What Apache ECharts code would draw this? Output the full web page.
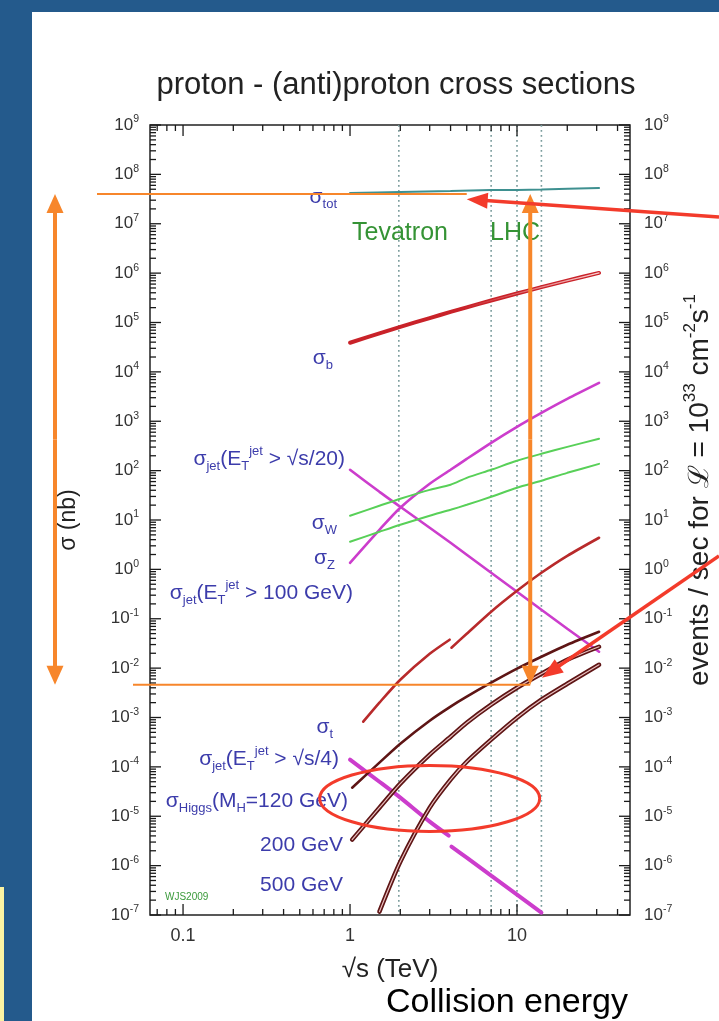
<!DOCTYPE html>
<html><head><meta charset="utf-8">
<script src="https://cdn.jsdelivr.net/npm/echarts@6/dist/echarts.min.js"></script>
<style>
html,body{margin:0;padding:0;width:719px;height:1021px;overflow:hidden;background:#245a8c;}
#panel{position:absolute;left:32px;top:12px;width:687px;height:1009px;background:#fff;}
#strip{position:absolute;left:0;top:887px;width:4px;height:134px;background:#fbf3a3;}
#chart{position:absolute;left:0;top:0;width:719px;height:1021px;}
</style></head><body>
<div id="panel"></div><div id="strip"></div><div id="chart"></div>
<script>
const FONT = "'Liberation Sans', Arial, Helvetica, sans-serif";

// ---------------- data (sqrt(s) in TeV, sigma in nb) ----------------
const energyGrid = [1, 1.5, 2, 3, 4, 5, 7, 10, 14, 20, 31];
const energyTot = [1, 2, 4, 7, 10, 14, 31];
const sigmaTot = [4.20e7, 4.41e7, 4.61e7, 4.83e7, 4.85e7, 4.94e7, 5.31e7];
const sigmaB = [3.89e4, 6.03e4, 8.15e4, 1.23e5, 1.64e5, 2.03e5, 2.79e5, 3.86e5, 5.20e5, 7.05e5, 1.01e6];
const sigmaJetS20 = [104, 37.2, 18.5, 6.95, 3.45, 1.98, 0.853, 0.352, 0.152, 0.0628, 0.0215];
const sigmaJet100 = [1.36, 6.34, 17.7, 54.1, 104, 173, 366, 771, 1479, 2838, 5984];
const sigmaW = [12.2, 19.4, 26.9, 40.8, 51.6, 71.4, 104, 158, 219, 303, 441];
const sigmaZ = [3.62, 5.77, 8.0, 12.2, 16.1, 20.3, 29.5, 44.9, 62.2, 90.2, 137];
const energyTopPpbar = [1.2, 1.5, 2, 3, 3.95];
const sigmaTopPpbar = [8.22e-4, 2.0e-3, 5.82e-3, 1.95e-2, 3.76e-2];
const energyTopPp = [4.05, 5, 7, 10, 14, 20, 31];
const sigmaTopPp = [2.59e-2, 4.97e-2, 0.139, 0.369, 0.853, 1.88, 4.37];
const energyJetS4Ppbar = [1, 1.5, 2, 3, 3.9];
const sigmaJetS4Ppbar = [1.40e-4, 5.0e-5, 2.38e-5, 7.78e-6, 4.05e-6];
const energyJetS4Pp = [4.05, 5, 7, 10, 14];
const sigmaJetS4Pp = [2.43e-6, 1.45e-6, 6.28e-7, 2.59e-7, 1.12e-7];
const energyHiggs = [1.03, 1.5, 2, 3, 4, 5, 7, 10, 14, 20, 31];
const sigmaH120 = [3.79e-5, 1.22e-4, 2.95e-4, 8.61e-4, 1.66e-3, 2.64e-3, 5.06e-3, 9.73e-3, 1.70e-2, 2.98e-2, 5.46e-2];
const sigmaH200 = [3.36e-6, 1.49e-5, 4.57e-5, 1.77e-4, 4.08e-4, 7.85e-4, 1.82e-3, 4.01e-3, 7.71e-3, 1.48e-2, 2.71e-2];
const energyH500 = [1.5, 2, 3, 4, 5, 7, 10, 14, 20, 31];
const sigmaH500 = [1.17e-7, 1.2e-6, 1.49e-5, 5.51e-5, 1.27e-4, 3.56e-4, 9.91e-4, 2.29e-3, 4.83e-3, 1.17e-2];
const colliderEnergies = [1.96, 7, 10, 14];

// ---------------- axes / ticks ----------------
const xMin = 0.0634, xMax = 47.5, yMin = 1e-7, yMax = 1e9;
const xMajorTicks = [0.1, 1, 10];
const xTickLabels = ['0.1', '1', '10'];
const xMinorTicks = [0.07, 0.08, 0.09, 0.2, 0.3, 0.4, 0.5, 0.6, 0.7, 0.8, 0.9, 2, 3, 4, 5, 6, 7, 8, 9, 20, 30, 40];
const yTickExponents = [-7, -6, -5, -4, -3, -2, -1, 0, 1, 2, 3, 4, 5, 6, 7, 8, 9];
const yMinorMultipliers = [2, 3, 4, 5, 6, 7, 8, 9];

// ---------------- annotation anchors (data space) ----------------
const annotUpperLevel = 4.0e7;
const annotLowerLevel = 4.6e-3;
const annotArrowEnergy = 12;
const annotTip1 = [5.0, 3.13e7];
const annotTip2 = [14.1, 6.4e-3];
const annotEllipseCenter = [3.0, 2.3e-5];

// ---------------- helpers ----------------
const zip = (xs, ys) => xs.map((x, i) => [x, ys[i]]);
function curve(name, xs, ys, color, width, z, extra) {
  return Object.assign({
    type: 'line', name, data: zip(xs, ys), symbol: 'none', showSymbol: false,
    smooth: 0.25, lineStyle: { color, width, cap: 'round' }, itemStyle: { color },
    z: z || 3, silent: true, animation: false, clip: true
  }, extra || {});
}
const C_MAG = '#cc3dcc', C_GRN = '#58d058', C_TOT = '#3e9090', C_B = '#c92229',
      C_TOP = '#b82a2b', C_H = '#5e1515', C_LIGHT = 'rgba(240,200,200,0.95)';

const yTickData = [];
yTickExponents.forEach(n => yTickData.push([1, Math.pow(10, n), 1]));
yTickExponents.slice(0, -1).forEach(n => yMinorMultipliers.forEach(k => yTickData.push([1, k * Math.pow(10, n), 0])));
const xTickData = xMajorTicks.map(v => [v, 1, 1]).concat(xMinorTicks.map(v => [v, 1, 0]));
const yLabelData = yTickExponents.map(n => [1, Math.pow(10, n), n]);

const tickRich = {
  b: { fontSize: 17, lineHeight: 22, fill: '#333', color: '#333', fontFamily: FONT },
  s: { fontSize: 10.5, lineHeight: 10, verticalAlign: 'top', fill: '#333', color: '#333', fontFamily: FONT }
};

const option = {
  animation: false,
  backgroundColor: 'transparent',
  title: {
    text: 'proton - (anti)proton cross sections', left: 391, top: 65, textAlign: 'center',
    textStyle: { fontSize: 31, fontWeight: 'normal', color: '#222', fontFamily: FONT }
  },
  grid: { left: 150, top: 125, right: 89, bottom: 106, show: true, borderColor: '#222', borderWidth: 1.5,
          backgroundColor: 'transparent', containLabel: false, outerBoundsMode: 'none' },
  xAxis: [{
    type: 'log', logBase: 10, min: xMin, max: xMax, position: 'bottom',
    axisLine: { show: false }, axisTick: { show: false }, splitLine: { show: false }, minorTick: { show: false },
    axisLabel: {
      margin: 12, fontSize: 18, color: '#333', fontFamily: FONT, showMinLabel: false, showMaxLabel: false,
      formatter: v => { const i = xMajorTicks.findIndex(t => Math.abs(Math.log10(v / t)) < 1e-6); return i >= 0 ? xTickLabels[i] : ''; }
    },
    name: '√s (TeV)', nameLocation: 'middle', nameGap: 42,
    nameTextStyle: { fontSize: 26, color: '#222', fontFamily: FONT }
  }],
  yAxis: [{
    type: 'log', logBase: 10, min: yMin, max: yMax, position: 'left',
    axisLine: { show: false }, axisTick: { show: false }, splitLine: { show: false }, axisLabel: { show: false },
    name: 'σ (nb)', nameLocation: 'middle', nameRotate: 90, nameGap: 70,
    nameTextStyle: { fontSize: 23, color: '#222', fontFamily: FONT }
  }, {
    type: 'log', logBase: 10, min: yMin, max: yMax, position: 'right',
    axisLine: { show: false }, axisTick: { show: false }, splitLine: { show: false }, axisLabel: { show: false }
  }],
  series: [
    { type: 'custom', name: 'colliders', coordinateSystem: 'cartesian2d', data: colliderEnergies.map(e => [e, 1]),
      encode: { x: 0, y: 1 }, z: 1, silent: true, clip: false,
      renderItem: (params, api) => {
        const cs = params.coordSys; const x = api.coord([api.value(0), 1])[0];
        return { type: 'line', shape: { x1: x, y1: cs.y, x2: x, y2: cs.y + cs.height },
                 style: { stroke: '#7a9c9c', lineWidth: 1.6, lineDash: [1.8, 3.2] } };
      } },
    curve('σtot', energyTot, sigmaTot, C_TOT, 2),
    curve('σb', energyGrid, sigmaB, C_B, 4),
    curve('σb band', energyGrid, sigmaB, new echarts.graphic.LinearGradient(0, 0, 1, 0, [
      { offset: 0, color: 'rgba(255,215,215,0)' }, { offset: 0.45, color: 'rgba(255,215,215,0)' },
      { offset: 1, color: 'rgba(255,225,225,0.95)' }]), 1.2, 4),
    curve('σjet ET>√s/20', energyGrid, sigmaJetS20, C_MAG, 2.6),
    curve('σjet ET>100 GeV', energyGrid, sigmaJet100, C_MAG, 2.6),
    curve('σW', energyGrid, sigmaW, C_GRN, 2),
    curve('σZ', energyGrid, sigmaZ, C_GRN, 2),
    curve('σt ppbar', energyTopPpbar, sigmaTopPpbar, C_TOP, 2.6),
    curve('σt pp', energyTopPp, sigmaTopPp, C_TOP, 2.6),
    curve('σjet ET>√s/4 ppbar', energyJetS4Ppbar, sigmaJetS4Ppbar, C_MAG, 4),
    curve('σjet ET>√s/4 pp', energyJetS4Pp, sigmaJetS4Pp, C_MAG, 4),
    curve('σHiggs 120', energyHiggs, sigmaH120, C_H, 2.6),
    curve('σHiggs 200', energyHiggs, sigmaH200, C_H, 4.5),
    curve('σHiggs 200 band', energyHiggs, sigmaH200, C_LIGHT, 1.2, 4),
    curve('σHiggs 500', energyH500, sigmaH500, C_H, 4.5),
    curve('σHiggs 500 band', energyH500, sigmaH500, C_LIGHT, 1.2, 4),
    { type: 'custom', name: 'yticks', coordinateSystem: 'cartesian2d', data: yTickData, encode: { x: 0, y: 1 },
      z: 6, silent: true, clip: false,
      renderItem: (params, api) => {
        const cs = params.coordSys; const y = api.coord([1, api.value(1)])[1];
        const len = api.value(2) ? 11 : 6; const st = { stroke: '#1a1a1a', lineWidth: 1.3 };
        return { type: 'group', children: [
          { type: 'line', shape: { x1: cs.x, y1: y, x2: cs.x + len, y2: y }, style: st },
          { type: 'line', shape: { x1: cs.x + cs.width, y1: y, x2: cs.x + cs.width - len, y2: y }, style: st }] };
      } },
    { type: 'custom', name: 'xticks', coordinateSystem: 'cartesian2d', data: xTickData, encode: { x: 0, y: 1 },
      z: 6, silent: true, clip: false,
      renderItem: (params, api) => {
        const cs = params.coordSys; const x = api.coord([api.value(0), 1])[0];
        const len = api.value(2) ? 11 : 6; const st = { stroke: '#1a1a1a', lineWidth: 1.3 };
        return { type: 'group', children: [
          { type: 'line', shape: { x1: x, y1: cs.y + cs.height, x2: x, y2: cs.y + cs.height - len }, style: st },
          { type: 'line', shape: { x1: x, y1: cs.y, x2: x, y2: cs.y + len }, style: st }] };
      } },
    { type: 'custom', name: 'ylabels', coordinateSystem: 'cartesian2d', data: yLabelData, encode: { x: 0, y: 1 },
      z: 6, silent: true, clip: false,
      renderItem: (params, api) => {
        const cs = params.coordSys; const y = api.coord([1, api.value(1)])[1];
        const txt = '{b|10}{s|' + api.value(2) + '}';
        const mk = (x, align) => ({ type: 'text', x, y, style: { text: txt, rich: tickRich, align, verticalAlign: 'middle', fill: '#333', fontFamily: FONT } });
        return { type: 'group', children: [mk(cs.x - 11, 'right'), mk(cs.x + cs.width + 14, 'left')] };
      } }
  ]
};

const chart = echarts.init(document.getElementById('chart'));
chart.setOption(option);

// ---------------- labels & annotations ----------------
const px = (e, v) => chart.convertToPixel({ gridIndex: 0 }, [e, v]);
const BLUE = '#3c3cab';
const blueRich = {
  m: { fontSize: 21, lineHeight: 28, fill: BLUE, fontFamily: FONT },
  sub: { fontSize: 13, lineHeight: 16, verticalAlign: 'bottom', fill: BLUE, fontFamily: FONT },
  sup: { fontSize: 13, lineHeight: 12, verticalAlign: 'top', fill: BLUE, fontFamily: FONT }
};
const blueLabels = [
  ['{m|σ}{sub|tot}', 337, 197],
  ['{m|σ}{sub|b}', 333, 358],
  ['{m|σ}{sub|jet}{m|(E}{sub|T}{sup|jet}{m| > √s/20)}', 345, 459],
  ['{m|σ}{sub|W}', 337, 523],
  ['{m|σ}{sub|Z}', 335, 558],
  ['{m|σ}{sub|jet}{m|(E}{sub|T}{sup|jet}{m| > 100 GeV)}', 353, 593],
  ['{m|σ}{sub|t}', 333, 727],
  ['{m|σ}{sub|jet}{m|(E}{sub|T}{sup|jet}{m| > √s/4)}', 339, 759],
  ['{m|σ}{sub|Higgs}{m|(M}{sub|H}{m|=120 GeV)}', 348, 801],
  ['{m|200 GeV}', 343, 845],
  ['{m|500 GeV}', 343, 885]
];
const g = [];
blueLabels.forEach(([t, x, y]) => g.push({ type: 'text', x, y, z: 50, silent: true,
  style: { text: t, rich: blueRich, align: 'right', verticalAlign: 'middle', fill: BLUE, fontFamily: FONT } }));
g.push({ type: 'text', x: 400, y: 233, z: 50, style: { text: 'Tevatron', fill: '#359335', fontSize: 25, fontFamily: FONT, align: 'center', verticalAlign: 'middle' } });
g.push({ type: 'text', x: 515, y: 233, z: 50, style: { text: 'LHC', fill: '#359335', fontSize: 25, fontFamily: FONT, align: 'center', verticalAlign: 'middle' } });
g.push({ type: 'text', x: 165, y: 897, z: 50, style: { text: 'WJS2009', fill: '#3a9a3a', fontSize: 10, fontFamily: FONT, align: 'left', verticalAlign: 'middle' } });
g.push({ type: 'text', x: 507, y: 1003, z: 50, style: { text: 'Collision energy', fill: '#000', fontSize: 34, fontFamily: FONT, align: 'center', verticalAlign: 'middle' } });
g.push({ type: 'text', x: 700, y: 490, rotation: Math.PI / 2, z: 50, style: {
  text: '{m|events / sec for ℒ = 10}{s|33}{m| cm}{s|-2}{m|s}{s|-1}', align: 'center', verticalAlign: 'middle',
  rich: { m: { fontSize: 28, lineHeight: 36, fill: '#222', fontFamily: FONT },
          s: { fontSize: 17, lineHeight: 16, verticalAlign: 'top', fill: '#222', fontFamily: FONT } } } });

const ORANGE = '#f7862b', RED = '#f33b2b';
function arrow(from, tip, color, width, len, hw) {
  const dx = tip[0] - from[0], dy = tip[1] - from[1], d = Math.hypot(dx, dy), ux = dx / d, uy = dy / d;
  const bx = tip[0] - ux * len, by = tip[1] - uy * len;
  return [
    { type: 'line', z: 100, silent: true, shape: { x1: from[0], y1: from[1], x2: bx + ux * 2, y2: by + uy * 2 }, style: { stroke: color, lineWidth: width } },
    { type: 'polygon', z: 100, silent: true, shape: { points: [[tip[0], tip[1]], [bx - uy * hw, by + ux * hw], [bx + uy * hw, by - ux * hw]] }, style: { fill: color } }
  ];
}
const tip1 = px(annotTip1[0], annotTip1[1]);
const tip2 = px(annotTip2[0], annotTip2[1]);
const yUp = px(1, annotUpperLevel)[1], yLo = px(1, annotLowerLevel)[1];
const xArr = px(annotArrowEnergy, 1)[0];
const ell = px(annotEllipseCenter[0], annotEllipseCenter[1]);
g.push({ type: 'line', z: 99, silent: true, shape: { x1: 97, y1: yUp, x2: tip1[0], y2: yUp }, style: { stroke: ORANGE, lineWidth: 2 } });
g.push({ type: 'line', z: 99, silent: true, shape: { x1: 133, y1: yLo, x2: xArr, y2: yLo }, style: { stroke: ORANGE, lineWidth: 2 } });
const mid = (yUp + yLo) / 2;
[[55, yUp], [55, yLo], [xArr, yUp], [xArr, yLo]].forEach(t => {
  arrow([t[0], mid], t, ORANGE, 4, 19, 8.5).forEach(e => g.push(e));
});
arrow([719, 217], tip1, RED, 3.5, 21, 8).forEach(e => g.push(e));
arrow([719, 556], tip2, RED, 3.5, 21, 8).forEach(e => g.push(e));
g.push({ type: 'ellipse', z: 100, silent: true, shape: { cx: ell[0], cy: ell[1], rx: 110, ry: 33 }, style: { fill: 'none', stroke: RED, lineWidth: 3 } });

chart.setOption({ graphic: g });
</script>
</body></html>
